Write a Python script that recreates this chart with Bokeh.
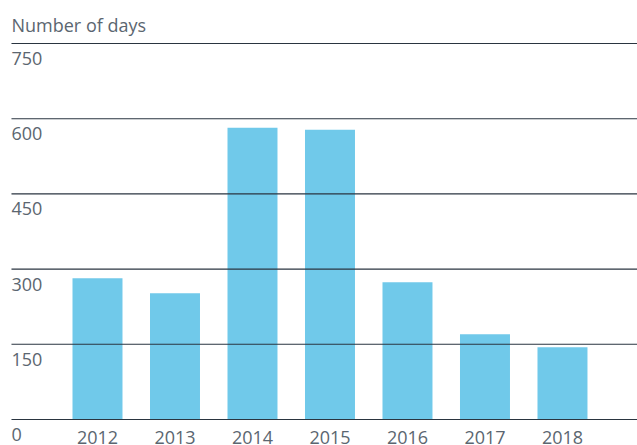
from bokeh.plotting import figure
from bokeh.models import Range1d, ColumnDataSource
from bokeh.core.properties import value
from bokeh.embed import file_html
from bokeh.resources import INLINE

years = ["2012", "2013", "2014", "2015", "2016", "2017", "2018"]
days = [282, 252, 582, 578, 274, 170, 144]
y_ticks = [0, 150, 300, 450, 600, 750]
y_title = "Number of days"

FONT = "Open Sans"
TEXT_COLOR = "#5b6670"
BAR_COLOR = "#70c9ea"
LINE_COLOR = "#2a3540"

x_idx = list(range(len(years)))
x_left = -1.11
x_start, x_end = -1.2516, 6.968

p = figure(width=637, height=445, output_backend="svg", toolbar_location=None,
           x_range=Range1d(x_start, x_end), y_range=Range1d(-51.86, 835.8),
           min_border=0, outline_line_color=None)
p.axis.visible = False
p.grid.visible = False
p.background_fill_color = "white"

bars = ColumnDataSource(dict(x=x_idx, top=days, label=years))
p.vbar(x="x", top="top", bottom=0, width=0.645, source=bars,
       fill_color=BAR_COLOR, line_color=None)

grid = ColumnDataSource(dict(y=y_ticks, x0=[x_left] * len(y_ticks),
                             x1=[x_end] * len(y_ticks),
                             label=[str(t) for t in y_ticks]))
p.segment(x0="x0", y0="y", x1="x1", y1="y", source=grid,
          line_color=LINE_COLOR, line_width=1.1)

p.text(x="x0", y="y", text="label", source=grid, text_font=value(FONT),
       text_font_size="18px", text_color=TEXT_COLOR, text_align="left",
       text_baseline="alphabetic", y_offset=15)

xl = ColumnDataSource(dict(x=x_idx, y=[0] * len(years), label=years))
p.text(x="x", y="y", text="label", source=xl, text_font=value(FONT),
       text_font_size="18px", text_color=TEXT_COLOR, text_align="center",
       text_baseline="alphabetic", y_offset=18)

p.text(x=[x_left], y=[y_ticks[-1]], text=[y_title], text_font=value(FONT),
       text_font_size="18px", text_color=TEXT_COLOR, text_align="left",
       text_baseline="alphabetic", y_offset=-19)

open("out.html", "w").write(file_html(p, INLINE))
